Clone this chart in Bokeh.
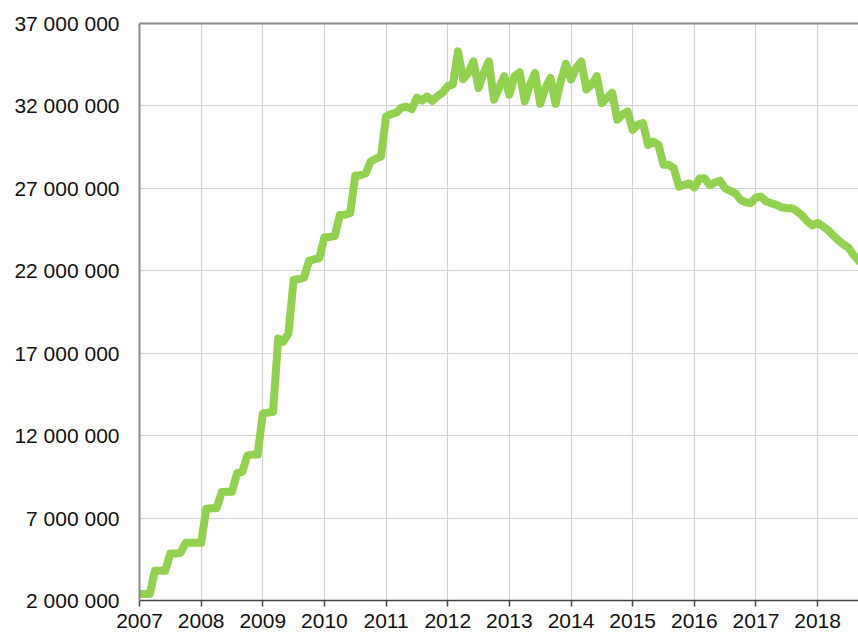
from bokeh.plotting import figure
from bokeh.models import FixedTicker, LinearAxis, Range1d
from bokeh.embed import file_html
from bokeh.resources import INLINE

# ---- data (monthly values, millions) ----
v2007 = [2.4, 2.4, 2.4, 3.8, 3.8, 3.8, 4.85, 4.85, 4.9, 5.5, 5.5, 5.5]
v2008 = [5.5, 7.57, 7.6, 7.6, 8.58, 8.6, 8.6, 9.73, 9.8, 10.8, 10.85, 10.85]
v2009 = [13.34, 13.4, 13.45, 17.9, 17.7, 18.2, 21.44, 21.5, 21.58, 22.6, 22.7, 22.75]
v2010 = [24.03, 24.05, 24.1, 25.39, 25.4, 25.5, 27.76, 27.8, 27.9, 28.63, 28.8, 28.93]
v2011 = [31.36, 31.5, 31.6, 31.9, 31.95, 31.8, 32.5, 32.33, 32.57, 32.3, 32.6, 32.8]
v2012 = [33.2, 33.3, 35.31, 33.63, 34.0, 34.7, 33.09, 34.0, 34.7, 32.38, 33.09, 33.8]
v2013 = [32.68, 33.8, 34.04, 32.28, 33.29, 34.0, 32.13, 33.09, 33.7, 32.13, 33.5, 34.55]
v2014 = [33.6, 34.3, 34.7, 33.0, 33.3, 33.8, 32.17, 32.5, 32.8, 31.16, 31.47, 31.67]
v2015 = [30.55, 30.86, 30.96, 29.64, 29.84, 29.64, 28.43, 28.43, 28.23, 27.1, 27.2, 27.3]
v2016 = [27.05, 27.6, 27.62, 27.2, 27.35, 27.47, 27.0, 26.85, 26.7, 26.3, 26.15, 26.1]
v2017 = [26.45, 26.5, 26.2, 26.1, 26.0, 25.85, 25.8, 25.8, 25.6, 25.35, 25.0, 24.75]
v2018 = [24.9, 24.7, 24.48, 24.15, 23.87, 23.6, 23.4, 22.96, 22.6]

series_by_year = [(2007, v2007), (2008, v2008), (2009, v2009), (2010, v2010),
                  (2011, v2011), (2012, v2012), (2013, v2013), (2014, v2014),
                  (2015, v2015), (2016, v2016), (2017, v2017), (2018, v2018)]

x_ticks = [2007, 2008, 2009, 2010, 2011, 2012, 2013, 2014, 2015, 2016, 2017, 2018]
x_labels = ["2007", "2008", "2009", "2010", "2011", "2012", "2013", "2014",
            "2015", "2016", "2017", "2018"]
y_ticks = [2e6, 7e6, 12e6, 17e6, 22e6, 27e6, 32e6, 37e6]
y_labels = ["2 000 000", "7 000 000", "12 000 000", "17 000 000", "22 000 000",
            "27 000 000", "32 000 000", "37 000 000"]

xs, ys = [], []
for yr, vals in series_by_year:
    for i, v in enumerate(vals):
        xs.append(yr + i / 12.0)
        ys.append(v * 1e6)

FONT = "Liberation Sans"
GRID = "#d0d0d0"

p = figure(width=858, height=635, output_backend="svg", toolbar_location=None,
           x_range=Range1d(2007, 2018.663), y_range=Range1d(2e6, 37e6),
           min_border_left=139, min_border_right=0, min_border_top=23,
           min_border_bottom=35, background_fill_color="white",
           border_fill_color="white")
p.outline_line_color = None

p.line(xs, ys, line_color="#92D050", line_width=8, line_join="round", line_cap="round")

# x axis
xa = p.xaxis[0]
xa.ticker = FixedTicker(ticks=x_ticks)
xa.major_label_overrides = {t: l for t, l in zip(x_ticks, x_labels)}
xa.major_label_text_font = FONT
xa.major_label_text_font_size = "21px"
xa.major_label_text_color = "#111111"
xa.major_label_standoff = 7
xa.major_tick_out = 6
xa.major_tick_in = 0
xa.minor_tick_out = 0
xa.minor_tick_in = 0
xa.axis_line_color = "#444444"
xa.axis_line_width = 1.5
xa.major_tick_line_color = "#444444"
xa.major_tick_line_width = 1.5

# y axis
ya = p.yaxis[0]
ya.ticker = FixedTicker(ticks=y_ticks)
ya.major_label_overrides = {t: l for t, l in zip(y_ticks, y_labels)}
ya.major_label_text_font = FONT
ya.major_label_text_font_size = "21px"
ya.major_label_text_color = "#111111"
ya.major_label_standoff = 20
ya.major_tick_out = 0
ya.major_tick_in = 0
ya.minor_tick_out = 0
ya.minor_tick_in = 0
ya.axis_line_color = "#8c8c8c"
ya.axis_line_width = 2

# top border line
top = LinearAxis(ticker=FixedTicker(ticks=[]), axis_line_color="#8c8c8c",
                 axis_line_width=2, major_tick_out=0, major_tick_in=0,
                 minor_tick_out=0, minor_tick_in=0)
p.add_layout(top, "above")

p.xgrid.ticker = FixedTicker(ticks=x_ticks)
p.ygrid.ticker = FixedTicker(ticks=y_ticks)
p.xgrid.grid_line_color = GRID
p.ygrid.grid_line_color = GRID
p.xgrid.grid_line_width = 1.2
p.ygrid.grid_line_width = 1.2

open("out.html", "w").write(file_html(p, INLINE))
